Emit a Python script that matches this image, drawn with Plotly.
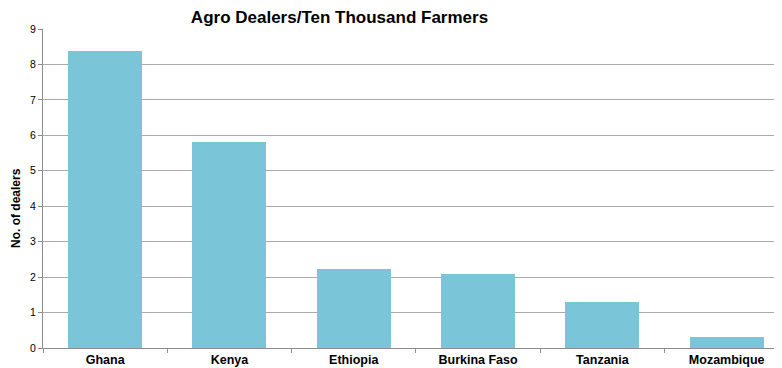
import plotly.graph_objects as go

countries = ["Ghana", "Kenya", "Ethiopia", "Burkina Faso", "Tanzania", "Mozambique"]
dealers = [8.38, 5.82, 2.24, 2.09, 1.30, 0.31]
y_ticks = [0, 1, 2, 3, 4, 5, 6, 7, 8, 9]

# page has an 8px body margin; figure sized to fill the remaining viewport
W, H = 774, 360

fig = go.Figure(go.Bar(
    x=countries, y=dealers,
    marker=dict(color="#7AC5D8", line=dict(width=0)),
    width=0.595,
))

fig.update_layout(
    width=W, height=H,
    margin=dict(l=35, r=0, t=21, b=20),
    paper_bgcolor="white", plot_bgcolor="white",
    font=dict(family="Liberation Sans, Arial, sans-serif", color="black"),
    title=dict(text="<b>Agro Dealers/Ten Thousand Farmers</b>", x=331.5/W, xanchor="center",
               y=1 - 9/H, yanchor="middle", font=dict(size=17)),
    showlegend=False,
    bargap=0,
)
fig.add_annotation(
    text="<b>No. of dealers</b>", textangle=-90, xref="paper", yref="paper",
    x=-27/(W - 35), xanchor="center", y=(340 - 200)/(H - 41), yanchor="middle",
    showarrow=False, font=dict(size=12, family="Liberation Sans Narrow, Liberation Sans, sans-serif"),
)
fig.update_xaxes(
    range=[-0.5, 5.445], showline=True, linecolor="#8c8c8c", linewidth=1,
    ticks="outside", tickson="boundaries", ticklen=4, tickcolor="#8c8c8c",
    tickfont=dict(size=12.5, family="Liberation Sans, Arial, sans-serif"),
    tickprefix="<b>", ticksuffix="</b>", showgrid=False, automargin=False,
)
fig.update_yaxes(
    range=[0, 9], tickvals=y_ticks, showline=True, linecolor="#8c8c8c", linewidth=1,
    ticks="outside", ticklen=4, tickcolor="#8c8c8c", showgrid=True, gridcolor="#aaaaaa",
    gridwidth=1, tickfont=dict(size=10.5), zeroline=False, automargin=False,
)

fig.write_html("out.html")
